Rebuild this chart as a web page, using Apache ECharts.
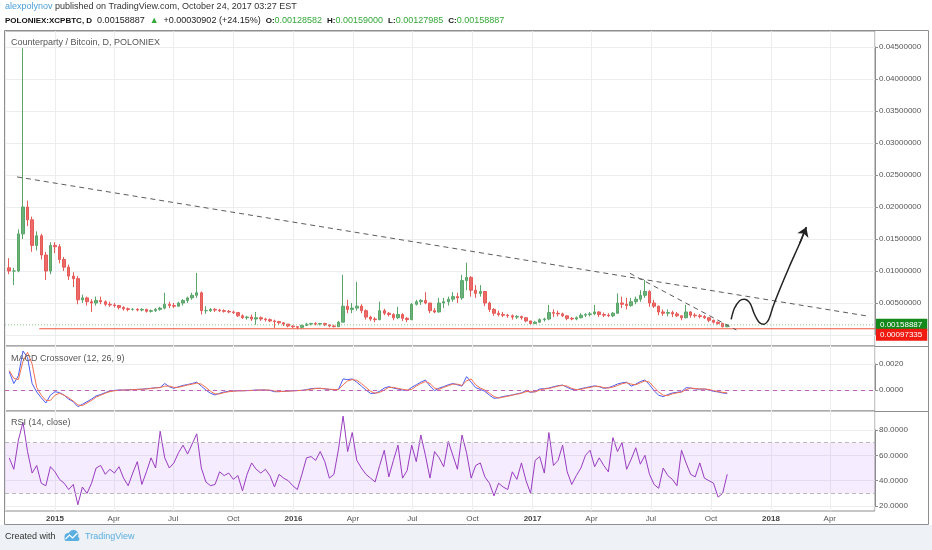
<!DOCTYPE html>
<html>
<head>
<meta charset="utf-8">
<title>XCPBTC</title>
<script src="https://cdn.jsdelivr.net/npm/echarts@6/dist/echarts.min.js"></script>
<style>
html, body { margin: 0; padding: 0; background: #fff; }
#main { width: 932px; height: 550px; }
</style>
</head>
<body>
<div id="main"></div>
<script>
// XCP/BTC, read off the daily chart and grouped by week (Monday 20 Oct 2014 onward)
// prices are in units of 0.0001 BTC
var firstWeek = '2014-10-20';
var firstOpen = 105;
var weekClose = [
    100, 100, 158, 200, 180, 140, 155, 125, 100, 140,
    138, 118, 106, 92, 88, 55, 58, 52, 50, 54,
    52, 48, 47, 46, 43, 41, 40, 40, 39, 40,
    37, 38, 40, 42, 48, 46, 45, 50, 54, 58,
    62, 66, 38, 38, 40, 39, 38, 37, 36, 35,
    30, 27, 28, 25, 27, 25, 24, 22, 21, 19,
    17, 14, 13, 12, 15, 17, 18, 17, 18, 16,
    14, 13, 20, 45, 40, 42, 45, 38, 28, 25,
    24, 38, 34, 32, 27, 32, 26, 24, 48, 52,
    54, 50, 38, 36, 50, 52, 56, 60, 58, 85,
    90, 70, 65, 68, 50, 40, 34, 32, 31, 30,
    28, 29, 27, 22, 18, 20, 24, 25, 35, 34,
    33, 30, 26, 25, 27, 31, 32, 33, 36, 32,
    31, 30, 34, 50, 48, 46, 52, 56, 62, 68,
    50, 45, 36, 34, 35, 33, 30, 27, 36, 31,
    30, 29, 27, 23, 20, 18, 12.86, 15.8887
];
var weekHigh = [
    120, 105, 165, 448, 210, 185, 162, 158, 130, 145,
    145, 142, 122, 110, 98, 92, 63, 60, 56, 60,
    60, 54, 52, 50, 47, 45, 43, 42, 42, 42,
    41, 40, 42, 44, 66, 52, 50, 52, 56, 60,
    66, 97, 68, 45, 42, 42, 41, 40, 39, 38,
    36, 32, 30, 32, 36, 29, 27, 26, 24, 22,
    20, 17, 15, 14, 16, 19, 19, 20, 19, 19,
    17, 16, 22, 94, 55, 50, 83, 48, 40, 30,
    28, 52, 41, 36, 34, 44, 34, 28, 50, 55,
    56, 67, 50, 42, 58, 58, 60, 67, 66, 94,
    113, 92, 78, 78, 68, 52, 42, 38, 36, 33,
    32, 31, 30, 28, 22, 22, 26, 27, 47, 40,
    38, 35, 30, 28, 29, 34, 34, 36, 47, 37,
    35, 34, 36, 65, 60, 58, 58, 60, 70, 86,
    70, 55, 46, 40, 40, 38, 36, 31, 47, 37,
    34, 33, 31, 27, 24, 21, 19, 15.9
];
var weekLow = [
    95, 78, 98, 150, 170, 130, 132, 118, 86, 95,
    128, 112, 100, 86, 75, 48, 50, 46, 36, 46,
    48, 45, 44, 43, 40, 38, 37, 38, 37, 37,
    35, 35, 36, 38, 40, 42, 42, 44, 46, 50,
    55, 58, 32, 33, 36, 36, 36, 35, 34, 33,
    28, 25, 24, 22, 16, 22, 21, 20, 11, 16,
    14, 12, 11, 9, 10, 14, 15, 15, 15, 14,
    12, 12, 13, 20, 34, 34, 38, 34, 24, 22,
    20, 23, 31, 29, 23, 25, 22, 20, 23, 46,
    47, 48, 34, 34, 35, 42, 46, 52, 50, 55,
    70, 60, 58, 60, 45, 36, 30, 29, 28, 27,
    24, 25, 24, 20, 16, 17, 19, 21, 23, 28,
    29, 28, 23, 23, 23, 26, 28, 29, 31, 28,
    28, 28, 28, 33, 42, 40, 44, 48, 52, 58,
    44, 42, 31, 30, 29, 28, 28, 23, 26, 27,
    27, 26, 25, 20, 18, 16, 12, 12.8
];
// MACD (12, 26, 9), units of 0.0001
var macdLine = [
    14, 5, 11, 30, 25, 5, -1.5, -6, -10, -4,
    -1.3, -2, -4, -7, -9, -12.8, -11, -9, -7, -4.5,
    -3.5, -2, -0.8, -0.3, 0, 0, 0.2, 0.3, 0.5, 0.6,
    1, 1.3, 1.8, 2, 5, 2.5, 1.3, 2.5, 3.5, 4.2,
    5, 6, 3, 0, -2.5, -3.8, -2.5, -1.5, -1, -0.8,
    -0.5, -0.6, -0.4, -0.3, 0, 0, 0, -0.3, -1.3, -1.3,
    -1, -0.8, -0.6, -0.4, -0.3, 0.3, 1, 1.3, 1.3, 0.8,
    0.4, 0.3, 0.5, 8.5, 8, 8.5, 6, 3, 0, -2.6,
    -2.5, -1, 1.5, 2.6, 1.5, 0.8, 0, -0.5, 2, 4,
    6, 7.7, 3, -0.5, 1.5, 2.6, 4, 5, 4, 3,
    10.3, 6, 1.8, 0.5, -1, -4, -6.4, -6, -5, -4.4,
    -3.8, -3, -2.2, -0.5, -1.8, -1.2, 0.8, 1, 1.5, 2.5,
    3.3, 3.8, 2, 0.5, 0, 1, 1.8, 2.5, 3.2, 2.5,
    1.3, 1.8, 3, 4.6, 5.5, 6, 3, 4.5, 6.5, 7.7,
    4, -0.5, -4, -5.1, -3.5, -2.3, -1.8, -1.3, 1.8, 1.5,
    0.8, 0.6, 0.8, 0, -1, -1.5, -2.3, -2.6
];
var signalLine = [
    15, 9, 8, 22, 29, 20, 2, -4, -8, -8,
    -4, -2.5, -4, -6, -8.5, -11.5, -12, -10, -8, -5.5,
    -4, -2.5, -1.2, -0.6, -0.2, 0, 0, 0.3, 0.4, 0.6,
    0.8, 1.2, 1.6, 1.8, 3, 3, 2, 2, 3, 3.8,
    4.5, 5.3, 4.5, 2, -1, -3, -3, -2, -1.3, -1,
    -0.7, -0.6, -0.5, -0.4, -0.2, 0, 0, -0.1, -0.8, -1.2,
    -1.1, -0.9, -0.7, -0.5, -0.3, 0, 0.6, 1.1, 1.3, 1,
    0.6, 0.4, 0.4, 4, 7, 8, 7.5, 5, 2, -1,
    -2.5, -1.8, 0, 2, 2, 1.2, 0.5, 0, 0.5, 3,
    5, 6.5, 5, 1.5, 0.5, 2, 3.3, 4.5, 4.5, 3.5,
    7, 8.5, 4, 1.5, 0, -2.5, -5, -6.2, -5.5, -4.8,
    -4, -3.2, -2.6, -1.2, -1.3, -1.5, 0, 0.8, 1.2, 2,
    3, 3.5, 3, 1.2, 0.3, 0.5, 1.4, 2, 2.8, 2.8,
    1.8, 1.5, 2.2, 3.5, 4.8, 5.6, 4.5, 4, 5.5, 7,
    6, 2, -1.5, -4, -4.3, -3, -2.2, -1.6, 0.3, 1.5,
    1.1, 0.8, 0.8, 0.4, -0.5, -1.2, -1.8, -2.2
];
// RSI (14, close)
var rsiLine = [
    58, 49, 72, 86, 63, 46, 52, 38, 36, 51,
    47, 41, 38, 33, 37, 21, 35, 30, 38, 50,
    52, 45, 49, 46, 51, 42, 36, 46, 55, 37,
    47, 58, 50, 79, 58, 50, 54, 62, 68, 61,
    69, 77, 50, 39, 36, 37, 47, 44, 46, 41,
    44, 32, 45, 54, 49, 46, 49, 44, 35, 45,
    42, 40, 36, 33, 45, 58, 59, 56, 63, 55,
    42, 45, 65, 91, 63, 78, 56, 50, 45, 42,
    39, 52, 64, 43, 56, 68, 42, 48, 68, 55,
    76, 60, 42, 63, 58, 51, 71, 60, 49, 76,
    62, 42, 52, 54, 43, 38, 28, 38, 35, 33,
    47, 41, 54, 40, 30, 56, 59, 46, 78, 52,
    56, 68, 47, 37, 44, 50, 60, 64, 51, 58,
    52, 47, 74, 63, 70, 49, 57, 66, 53, 60,
    45, 37, 34, 50, 44, 41, 36, 64, 54, 45,
    43, 54, 42, 40, 38, 27, 30, 45
];
// drawings on the price pane (date, price in 0.0001)
var trendLong = [['2014-11-04', 247], ['2018-06-01', 29]];
var trendShort = [['2017-05-30', 96.4], ['2017-11-09', 7.8]];
var sketchDates = ['2017-11-01', '2017-11-06', '2017-11-14', '2017-11-21', '2017-11-30', '2017-12-06', '2017-12-13',
    '2017-12-20', '2017-12-28', '2018-01-04', '2018-01-14', '2018-01-29', '2018-02-14', '2018-02-24'];
var sketchPrice = [24.5, 41.7, 53.6, 55.8, 49.5, 33.9, 20.8, 16.7, 23.4, 44.2, 70.3, 106.7, 143.3, 168.3];
var supportLevel = 0.00097335;
var supportFrom = '2014-12-08';
var lastPrice = 0.00158887;
var priceTicks = { min: 0, max: 0.045, step: 0.005 };
var MONTHS = ['Jan', 'Feb', 'Mar', 'Apr', 'May', 'Jun', 'Jul', 'Aug', 'Sep', 'Oct', 'Nov', 'Dec'];

function day(s, h) {
    var p = s.split('-');
    return new Date(+p[0], +p[1] - 1, +p[2], h || 0).getTime();
}
var xMin = day('2014-10-16', 12);
var xMax = day('2018-06-09', 4);
var DAY = 86400000;

var p0 = firstWeek.split('-');
var candles = [], macdData = [], signalData = [], rsiData = [];
for (var i = 0; i < weekClose.length; i++) {
    var t = new Date(+p0[0], +p0[1] - 1, +p0[2] + 7 * i + 3).getTime();
    var o = i === 0 ? firstOpen : weekClose[i - 1];
    candles.push([t, o * 1e-4, weekClose[i] * 1e-4, weekLow[i] * 1e-4, weekHigh[i] * 1e-4]);
    macdData.push([t, macdLine[i] * 1e-4]);
    signalData.push([t, signalLine[i] * 1e-4]);
    rsiData.push([t, rsiLine[i]]);
}
function toPts(arr) {
    return arr.map(function (d) { return [day(d[0]), d[1] * 1e-4]; });
}
var sketch = sketchDates.map(function (d, k) { return [day(d), sketchPrice[k] * 1e-4]; });

var FONT = 'Liberation Sans';
var GRID_LINE = '#ecedef';
var FRAME = '#8e8e8e';

function frameX(g, showLabel) {
    return {
        type: 'time', gridIndex: g, min: xMin, max: xMax,
        splitNumber: 14, minInterval: 80 * DAY, maxInterval: 100 * DAY,
        axisLine: { show: false }, axisTick: { show: false },
        axisLabel: {
            show: showLabel, color: '#555', fontSize: 8, fontFamily: FONT, margin: 4,
            formatter: function (v) {
                var d = new Date(v);
                if (d.getMonth() === 0) return '{y|' + d.getFullYear() + '}';
                return MONTHS[d.getMonth()];
            },
            rich: { y: { fontWeight: 'bold', color: '#444', fontSize: 8, fontFamily: FONT } }
        },
        splitLine: { show: true, lineStyle: { color: GRID_LINE } }
    };
}
function dataX(g) {
    return { type: 'time', gridIndex: g, min: xMin, max: xMax, show: false };
}
function rightY(g, min, max, step, digits, extra) {
    var ax = {
        type: 'value', gridIndex: g, position: 'right', min: min, max: max, interval: step,
        axisLine: { show: true, lineStyle: { color: FRAME } },
        axisTick: { show: true, length: 3, lineStyle: { color: FRAME } },
        axisLabel: {
            color: '#555', fontSize: 8, fontFamily: FONT, margin: 4,
            formatter: function (v) { return v.toFixed(digits); }
        },
        splitLine: { show: true, lineStyle: { color: GRID_LINE } }
    };
    if (extra) for (var k in extra) ax.axisLabel[k] = extra[k];
    return ax;
}
var paneTitle = { color: '#555', fontSize: 9, fontFamily: FONT, fontWeight: 'normal' };
function txt(color, weight, size) {
    return { color: color, fontSize: size || 9, fontFamily: FONT, fontWeight: weight || 'normal' };
}
// horizontal price level drawn as a line series, its price box as a markLine label on the axis side
function levelSeries(name, fromX, price, text, bg, valign, lineStyle) {
    return {
        type: 'line', name: name, xAxisIndex: 3, yAxisIndex: 3, z: 3,
        data: [[fromX, price], [xMax, price]], symbol: 'none',
        lineStyle: lineStyle,
        markLine: {
            silent: true, symbol: ['none', 'none'], animation: false,
            lineStyle: { color: 'rgba(255,255,255,0)', width: 1, type: 'solid' },
            label: { show: true, position: 'end', distance: 1, formatter: text, color: '#fff', verticalAlign: valign,
                backgroundColor: bg, padding: [2, 5, 2, 4], fontSize: 8, fontFamily: FONT },
            data: [[{ coord: [fromX, price] }, { coord: [xMax, price] }]]
        }
    };
}

var myChart = echarts.init(document.getElementById('main'));
var option = {
    animation: false,
    backgroundColor: '#fff',
    title: [{
        left: 5, top: 2, padding: 0,
        text: '{u|alexpolynov}{t| published on TradingView.com, October 24, 2017 03:27 EST}',
        textStyle: { fontWeight: 'normal', rich: { u: txt('#4c9fd8'), t: txt('#333') } }
    }, {
        left: 5, top: 12, padding: 0,
        text: '{b|POLONIEX:XCPBTC, D} {t|0.00158887} {g|\u25B2} {t|+0.00030902 (+24.15%)} ' +
            '{b|O:}{g|0.00128582} {b|H:}{g|0.00159000} {b|L:}{g|0.00127985} {b|C:}{g|0.00158887}',
        textStyle: { fontWeight: 'normal', rich: { b: txt('#111', 'bold', 8), t: txt('#222'), g: txt('#35a83a') } }
    }, {
        left: 11, top: 38, padding: 0, text: 'Counterparty / Bitcoin, D, POLONIEX', textStyle: paneTitle
    }, {
        left: 11, top: 354, padding: 0, text: 'MACD Crossover (12, 26, 9)', textStyle: paneTitle
    }, {
        left: 11, top: 418, padding: 0, text: 'RSI (14, close)', textStyle: paneTitle
    }, {
        left: 5, top: 532, padding: 0, text: 'Created with', textStyle: txt('#333')
    }, {
        left: 85, top: 532, padding: 0, text: 'TradingView', textStyle: txt('#5aafe2')
    }],
    graphic: [
        { type: 'rect', z: -10, shape: { x: 0, y: 525, width: 932, height: 25 }, style: { fill: '#eef1f5' } },
        { type: 'rect', z: 100, silent: true, shape: { x: 4.5, y: 30.5, width: 924, height: 494 },
          style: { fill: 'none', stroke: FRAME, lineWidth: 1 } },
        { type: 'line', z: 100, shape: { x1: 875, y1: 346.5, x2: 928.5, y2: 346.5 }, style: { stroke: FRAME } },
        { type: 'line', z: 100, shape: { x1: 875, y1: 411.5, x2: 928.5, y2: 411.5 }, style: { stroke: FRAME } },
        // TradingView logo
        { type: 'group', left: 63, top: 530, children: [
            { type: 'circle', shape: { cx: 6, cy: 7, r: 4 }, style: { fill: '#5aafe2' } },
            { type: 'circle', shape: { cx: 11, cy: 5, r: 5 }, style: { fill: '#5aafe2' } },
            { type: 'rect', shape: { x: 2, y: 7, width: 15, height: 4, r: 2 }, style: { fill: '#5aafe2' } },
            { type: 'polyline', shape: { points: [[3, 9], [7, 5], [10, 8], [15, 3]] },
              style: { stroke: '#fff', lineWidth: 1.2, fill: 'none' } }
        ] }
    ],
    grid: [
        { left: 5, right: 57, top: 31, height: 315, show: true, borderColor: FRAME, backgroundColor: '#fff', outerBoundsMode: 'none' },
        { left: 5, right: 57, top: 346, height: 65, show: true, borderColor: FRAME, backgroundColor: '#fff', outerBoundsMode: 'none' },
        { left: 5, right: 57, top: 411, height: 100, show: true, borderColor: FRAME, backgroundColor: '#fff', outerBoundsMode: 'none' },
        { left: 5, right: 57, top: 47, height: 288, outerBoundsMode: 'none' },
        { left: 5, right: 57, top: 364, height: 26, outerBoundsMode: 'none' },
        { left: 5, right: 57, top: 430, height: 76, outerBoundsMode: 'none' }
    ],
    xAxis: [frameX(0, false), frameX(1, false), frameX(2, true), dataX(3), dataX(4), dataX(5)],
    yAxis: [
        { type: 'value', gridIndex: 0, show: false, min: 0, max: 1, splitLine: { show: false } },
        { type: 'value', gridIndex: 1, show: false, min: 0, max: 1, splitLine: { show: false } },
        { type: 'value', gridIndex: 2, show: false, min: 0, max: 1, splitLine: { show: false } },
        rightY(3, priceTicks.min, priceTicks.max, priceTicks.step, 8, { showMinLabel: false }),
        rightY(4, 0, 0.002, 0.002, 4),
        rightY(5, 20, 80, 20, 4)
    ],
    series: [{
        type: 'candlestick',
        name: 'XCPBTC',
        xAxisIndex: 3, yAxisIndex: 3,
        dimensions: ['date', 'open', 'close', 'lowest', 'highest'],
        encode: { x: 0, y: [1, 2, 3, 4] },
        barWidth: 3,
        data: candles,
        itemStyle: { color: '#6bb27a', color0: '#ec6a68', borderColor: '#5aa66a', borderColor0: '#e65a58', borderWidth: 1 }
    },
    levelSeries('last', xMin, lastPrice, '0.00158887', '#12891a', 'middle', { color: '#8ccc8c', type: [1, 2], width: 1 }),
    levelSeries('support', day(supportFrom), supportLevel, '0.00097335', '#f01a10', 'top', { color: '#f0553e', type: 'solid', width: 1 }),
    {
        type: 'line', name: 'trend1', xAxisIndex: 3, yAxisIndex: 3,
        data: toPts(trendLong), symbol: 'none',
        lineStyle: { color: '#5c5c5c', width: 1, type: [5, 4] }
    }, {
        type: 'line', name: 'trend2', xAxisIndex: 3, yAxisIndex: 3,
        data: toPts(trendShort), symbol: 'none',
        lineStyle: { color: '#5c5c5c', width: 1, type: [5, 4] }
    }, {
        type: 'line', name: 'sketch', xAxisIndex: 3, yAxisIndex: 3,
        data: sketch, symbol: 'none', smooth: 0.3,
        lineStyle: { color: '#222', width: 1.5 },
        markLine: {
            silent: true, symbol: ['none', 'arrow'], symbolSize: 9, label: { show: false },
            lineStyle: { color: '#222', width: 1.5, type: 'solid' },
            data: [[{ coord: sketch[sketch.length - 2] }, { coord: sketch[sketch.length - 1] }]]
        }
    }, {
        type: 'line', name: 'MACD', xAxisIndex: 4, yAxisIndex: 4, clip: false,
        data: macdData, symbol: 'none',
        lineStyle: { color: '#4d5cf2', width: 1 }
    }, {
        type: 'line', name: 'Signal', xAxisIndex: 4, yAxisIndex: 4, clip: false,
        data: signalData, symbol: 'none',
        lineStyle: { color: '#f2704e', width: 1 },
        markLine: {
            silent: true, symbol: ['none', 'none'], label: { show: false },
            lineStyle: { color: '#c062b8', type: [4, 4], width: 1 },
            data: [{ yAxis: 0 }]
        }
    }, {
        type: 'line', name: 'RSI', xAxisIndex: 5, yAxisIndex: 5, clip: false,
        data: rsiData, symbol: 'none',
        lineStyle: { color: '#9a3cc0', width: 1 },
        markArea: {
            silent: true, itemStyle: { color: 'rgba(190,130,255,0.15)' },
            data: [[{ yAxis: 30 }, { yAxis: 70 }]]
        },
        markLine: {
            silent: true, symbol: ['none', 'none'], label: { show: false },
            lineStyle: { color: '#b8b8b8', type: [4, 3], width: 1 },
            data: [{ yAxis: 70 }, { yAxis: 30 }]
        }
    }]
};
myChart.setOption(option);
</script>
</body>
</html>
